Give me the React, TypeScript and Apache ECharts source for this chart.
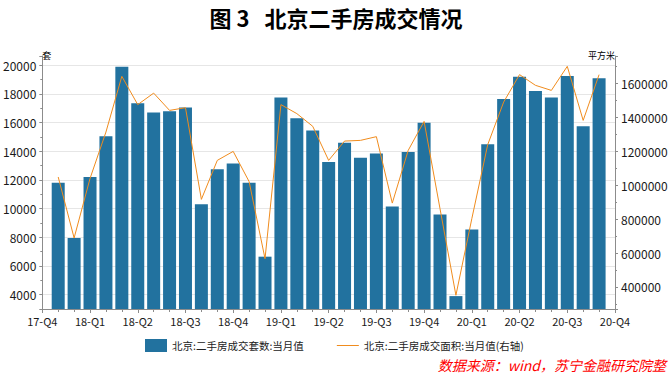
import React, { useEffect, useRef } from "react";
import * as echarts from "echarts";

// Months (Oct 2017 – Aug 2020), values dated at month end
const months = [
  "2017-10", "2017-11", "2017-12",
  "2018-01", "2018-02", "2018-03", "2018-04", "2018-05", "2018-06",
  "2018-07", "2018-08", "2018-09", "2018-10", "2018-11", "2018-12",
  "2019-01", "2019-02", "2019-03", "2019-04", "2019-05", "2019-06",
  "2019-07", "2019-08", "2019-09", "2019-10", "2019-11", "2019-12",
  "2020-01", "2020-02", "2020-03", "2020-04", "2020-05", "2020-06",
  "2020-07", "2020-08",
];

// 北京:二手房成交套数:当月值 (套)
const dealCounts = [
  11800, 7950, 12200,
  15050, 19900, 17350, 16700, 16800, 17050,
  10300, 12750, 13150, 11800, 6650, 17750,
  16300, 15450, 13250, 14600, 13550, 13850,
  10150, 13950, 16000, 9600, 3900, 8550,
  14500, 17650, 19200, 18200, 17750, 19250,
  15750, 19100,
];

// 北京:二手房成交面积:当月值 (平方米)
const dealArea = [
  1049000, 689000, 1040000,
  1314000, 1643000, 1476000, 1544000, 1442000, 1458000,
  917000, 1147000, 1200000, 1022000, 567000, 1476000,
  1423000, 1348000, 1147000, 1261000, 1265000, 1287000,
  895000, 1206000, 1377000, 862000, 351000, 803000,
  1240000, 1491000, 1653000, 1590000, 1560000, 1702000,
  1383000, 1653000,
];

// Quarter tick labels, every 3 months starting 2017-10-01
const quarterLabels = [
  "17-Q4", "18-Q1", "18-Q2", "18-Q3", "18-Q4", "19-Q1", "19-Q2",
  "19-Q3", "19-Q4", "20-Q1", "20-Q2", "20-Q3", "20-Q4",
];

const seriesNames = ["北京:二手房成交套数:当月值", "北京:二手房成交面积:当月值(右轴)"];

const FONT = "'Noto Sans CJK SC', 'Noto Sans', sans-serif";
const AXIS_GRAY = "#8c8c8c";
const LINE_COLOR = "#f08c1e";

export default function App() {
  const ref = useRef<HTMLDivElement>(null);

  useEffect(() => {
    if (!ref.current) return;
    const chart = echarts.init(ref.current, undefined, { renderer: "svg" });

    const option = {
      animation: false,
      backgroundColor: "#ffffff",
      textStyle: { fontFamily: FONT },
      title: {
        text: "图 3   北京二手房成交情况",
        left: "center",
        top: 1,
        textStyle: { fontSize: 22, fontWeight: "bold", color: "#000", fontFamily: FONT },
      },
      legend: {
        left: 140,
        top: 334,
        itemWidth: 22,
        itemHeight: 13,
        itemGap: 33,
        symbolKeepAspect: true,
        textStyle: { fontSize: 10.5, color: "#222", fontFamily: FONT },
        data: [
          { name: seriesNames[0], icon: "rect" },
          {
            name: seriesNames[1],
            icon: "path://M0,0 L44,0 L44,2 L0,2 Z",
            itemStyle: { color: LINE_COLOR },
          },
        ],
      },
      grid: { left: 40, right: 57, top: 56, bottom: 76 },
      xAxis: {
        type: "value",
        min: 0,
        max: (quarterLabels.length - 1) * 3,
        interval: 3,
        axisLine: { show: true, lineStyle: { color: AXIS_GRAY } },
        axisTick: { show: true, length: 4, lineStyle: { color: AXIS_GRAY } },
        minorTick: { show: true, splitNumber: 3, length: 3, lineStyle: { color: AXIS_GRAY } },
        splitLine: { show: false },
        axisLabel: {
          margin: 6,
          fontSize: 11,
          color: "#1a1a1a",
          fontFamily: FONT,
          formatter: (v: number) => quarterLabels[Math.round(v / 3)] ?? "",
        },
      },
      yAxis: [
        {
          type: "value",
          min: 3000,
          max: 20650,
          minInterval: 2000,
          maxInterval: 2000,
          name: "套",
          nameLocation: "end",
          nameGap: 1,
          nameTextStyle: { fontSize: 9, color: "#000", align: "left", verticalAlign: "middle", fontFamily: FONT },
          axisLine: { show: true, lineStyle: { color: AXIS_GRAY } },
          axisTick: { show: true, length: 3, lineStyle: { color: AXIS_GRAY } },
          minorTick: { show: true, splitNumber: 2, length: 2, lineStyle: { color: AXIS_GRAY } },
          splitLine: { show: true, showMinLine: false, showMaxLine: false, lineStyle: { color: "#e6e6e6", width: 1 } },
          axisLabel: {
            margin: 6,
            fontSize: 12,
            color: "#1a1a1a",
            fontFamily: FONT,
            showMinLabel: false,
            showMaxLabel: false,
            formatter: (v: number) => (v % 2000 === 0 ? String(v) : ""),
          },
        },
        {
          type: "value",
          position: "right",
          min: 270000,
          max: 1763000,
          minInterval: 200000,
          maxInterval: 200000,
          name: "平方米",
          nameLocation: "end",
          nameGap: 1,
          nameTextStyle: { fontSize: 9, color: "#000", align: "right", verticalAlign: "middle", fontFamily: FONT },
          axisLine: { show: true, lineStyle: { color: AXIS_GRAY } },
          axisTick: { show: true, length: 3, lineStyle: { color: AXIS_GRAY } },
          minorTick: { show: true, splitNumber: 2, length: 2, lineStyle: { color: AXIS_GRAY } },
          splitLine: { show: false },
          axisLabel: {
            margin: 6,
            fontSize: 12,
            color: "#1a1a1a",
            fontFamily: FONT,
            showMinLabel: false,
            showMaxLabel: false,
            formatter: (v: number) => (v % 200000 === 0 ? String(v) : ""),
          },
        },
      ],
      graphic: [
        {
          type: "text",
          right: 6,
          top: 358,
          style: {
            text: "数据来源：wind，苏宁金融研究院整",
            fill: "#ff0000",
            font: `italic 14px ${FONT}`,
          },
        },
      ],
      series: [
        {
          name: seriesNames[0],
          type: "bar",
          yAxisIndex: 0,
          barWidth: 13,
          itemStyle: { color: "#22729f" },
          data: dealCounts.map((v, i) => [i + 1, v]),
        },
        {
          name: seriesNames[1],
          type: "line",
          yAxisIndex: 1,
          symbol: "none",
          lineStyle: { color: LINE_COLOR, width: 1 },
          itemStyle: { color: LINE_COLOR },
          data: dealArea.map((v, i) => [i + 1, v]),
        },
      ],
    };

    chart.setOption(option as any);
    return () => chart.dispose();
  }, []);

  return (
    <div
      ref={ref}
      style={{ position: "fixed", left: 0, top: 0, width: 672, height: 385, background: "#fff" }}
      data-months={months.length}
    />
  );
}
